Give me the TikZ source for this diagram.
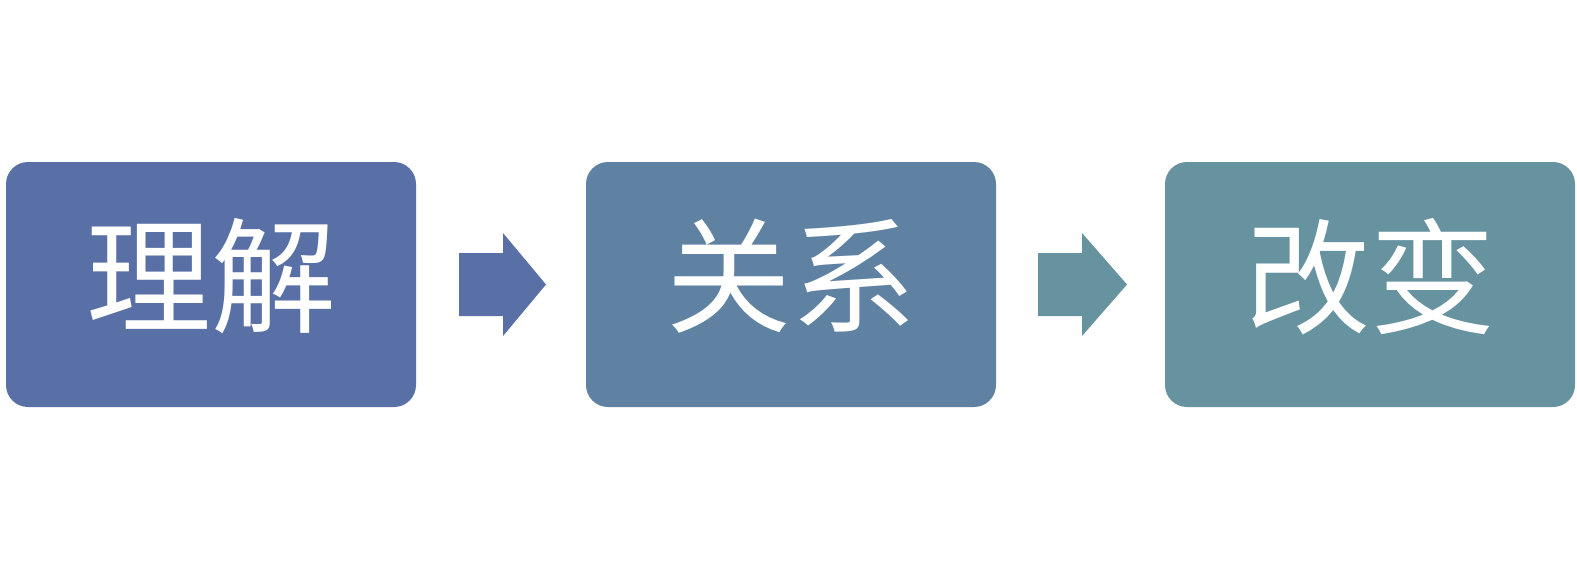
\documentclass[tikz,border=0pt]{standalone}
\usepackage{fontspec}
\newfontfamily\cjk{Noto Sans CJK SC}
\definecolor{cA}{RGB}{89,112,166}
\definecolor{cB}{RGB}{95,130,163}
\definecolor{cC}{RGB}{103,146,159}
\begin{document}
\begin{tikzpicture}[x=1pt,y=-1pt,
  stagebox/.style={rounded corners=22pt, minimum width=410pt, minimum height=245pt,
    inner sep=0pt},
  stagetext/.style={inner sep=0pt, text=white, font=\cjk\fontsize{125}{125}\selectfont},
]
\useasboundingbox (0,0) rectangle (1577,566);
\node[stagebox, fill=cA] (b1) at (211,284.5) {};
\node[stagebox, fill=cB] (b2) at (791,284.5) {};
\node[stagebox, fill=cC] (b3) at (1370,284.5) {};
\node[stagetext] (t1) at ([yshift=8pt]b1.center) {理解};
\node[stagetext] (t2) at ([yshift=8pt]b2.center) {关系};
\node[stagetext] (t3) at ([yshift=8pt]b3.center) {改变};
\fill[cA] (459,253) -- (503,253) -- (503,233) -- (546,284.5) -- (503,336) -- (503,316) -- (459,316) -- cycle;
\fill[cC] (1038,253) -- (1082,253) -- (1082,233) -- (1127,284.5) -- (1082,336) -- (1082,316) -- (1038,316) -- cycle;
\end{tikzpicture}
\end{document}
